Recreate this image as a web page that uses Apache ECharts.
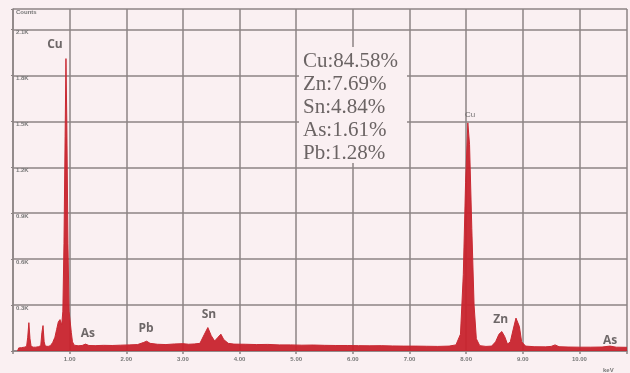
<!DOCTYPE html>
<html><head><meta charset="utf-8">
<script src="https://cdn.jsdelivr.net/npm/echarts@6/dist/echarts.min.js"></script>
<style>html,body{margin:0;padding:0;background:#faf0f2}#c{width:630px;height:373px}</style>
</head><body><div id="c"></div>
<script>
// Energy (keV) and counts
const energy = [0.08,0.10,0.15,0.20,0.24,0.26,0.28,0.30,0.32,0.36,0.40,0.45,0.49,0.51,0.53,0.55,0.57,0.62,0.66,0.70,0.74,0.77,0.80,0.83,0.86,0.88,0.90,0.92,0.935,0.95,0.97,0.99,1.01,1.03,1.05,1.08,1.15,1.22,1.28,1.34,1.45,1.60,1.75,1.90,2.05,2.20,2.30,2.36,2.42,2.55,2.70,2.85,3.00,3.10,3.20,3.30,3.38,3.44,3.50,3.56,3.62,3.67,3.72,3.80,3.90,4.10,4.30,4.50,4.70,4.90,5.10,5.30,5.50,5.70,5.90,6.10,6.30,6.50,6.70,6.90,7.10,7.30,7.50,7.70,7.82,7.90,7.95,7.99,8.03,8.06,8.10,8.14,8.18,8.24,8.35,8.45,8.52,8.58,8.63,8.68,8.73,8.78,8.83,8.88,8.91,8.94,8.98,9.05,9.20,9.40,9.50,9.57,9.64,9.80,10.00,10.20,10.40,10.54,10.65,10.84];
const counts = [0,20,22,25,30,90,185,80,30,25,25,28,35,120,166,60,32,30,35,55,90,140,190,205,170,260,700,1400,1910,1500,700,260,190,120,60,38,34,36,45,36,35,37,36,38,40,42,55,64,50,44,42,46,48,44,46,50,110,153,100,65,90,110,75,50,45,44,42,43,40,40,38,39,37,36,36,35,34,35,33,32,32,31,30,32,40,110,500,1100,1490,1350,800,300,80,35,30,32,60,110,127,95,45,60,140,215,228,160,60,32,28,27,30,40,28,26,25,25,26,32,25,24];
// Peak annotations: name, energy, counts
const peakNames = ['Cu','As','Pb','Sn','Zn','As'];
const peakEnergy = [0.74,1.32,2.35,3.46,8.61,10.54];
const peakCounts = [2000,115,147,236,204,70];
const smallPeakNames = ['Cu'];
const smallPeakEnergy = [8.07];
const smallPeakCounts = [1540];
// Composition
const compLines = ['Cu:84.58%','Zn:7.69%','Sn:4.84%','As:1.61%','Pb:1.28%'];
// Axes
const yMax = 2234, yStep = 300, xMax = 10.84;

const chart = echarts.init(document.getElementById('c'));
const grid = '#8c8484';
chart.setOption({
  backgroundColor: '#faf0f2',
  animation: false,
  grid: {left: 13, right: 0, top: 9, bottom: 14},
  xAxis: {
    type: 'value', min: 0, max: xMax, interval: 1,
    name: 'keV', nameLocation: 'end', nameGap: -24,
    nameTextStyle: {fontSize: 6, fontWeight: 'bold', color: '#777', verticalAlign: 'top', padding: [16, 0, 0, 0]},
    axisLine: {lineStyle: {color: grid, width: 1.5}},
    axisTick: {show: true, length: 3, lineStyle: {color: grid, width: 1.5}},
    axisLabel: {fontSize: 6, fontWeight: 'bold', color: '#777', margin: 5,
      formatter: v => (v > 0 && v <= 10) ? v.toFixed(2) : ''},
    splitLine: {lineStyle: {color: grid, width: 1.5}}
  },
  yAxis: {
    type: 'value', min: 0, max: yMax, interval: yStep,
    axisLine: {show: true, lineStyle: {color: grid, width: 1.5}},
    axisTick: {show: true, length: 2, lineStyle: {color: grid}},
    axisLabel: {inside: true, fontSize: 6, fontWeight: 'bold', color: '#777', margin: 3, verticalAlign: 'top',
      formatter: v => v === yMax ? 'Counts' : (v === 0 ? '' : (v / 1000).toFixed(1) + 'K')},
    splitLine: {lineStyle: {color: grid, width: 1.5}}
  },
  graphic: [
    {type: 'rect', left: 299, top: 47, shape: {width: 108, height: 116}, style: {fill: '#faf0f2'}, z: 10},
    {type: 'text', left: 303, top: 50, z: 11,
      style: {text: compLines.join('\n'), font: '21px "Liberation Serif"', fill: '#6b6464', lineHeight: 23}}
  ],
  series: [
    {type: 'line', data: energy.map((e, i) => [e, counts[i]]), showSymbol: false, smooth: false,
      lineStyle: {color: '#c92a33', width: 1}, areaStyle: {color: '#c8232d', opacity: 0.95}},
    {type: 'scatter', symbolSize: 0, data: peakEnergy.map((e, i) => ({value: [e, peakCounts[i]], name: peakNames[i]})),
      label: {show: true, position: 'inside', formatter: p => p.name, fontSize: 12, fontWeight: 'bold', color: '#4a4545', fontFamily: 'Open Sans'}, z: 5},
    {type: 'scatter', symbolSize: 0, data: smallPeakEnergy.map((e, i) => ({value: [e, smallPeakCounts[i]], name: smallPeakNames[i]})),
      label: {show: true, position: 'inside', formatter: p => p.name, fontSize: 8, color: '#555', fontFamily: 'Liberation Sans'}, z: 5}
  ]
});
</script></body></html>
